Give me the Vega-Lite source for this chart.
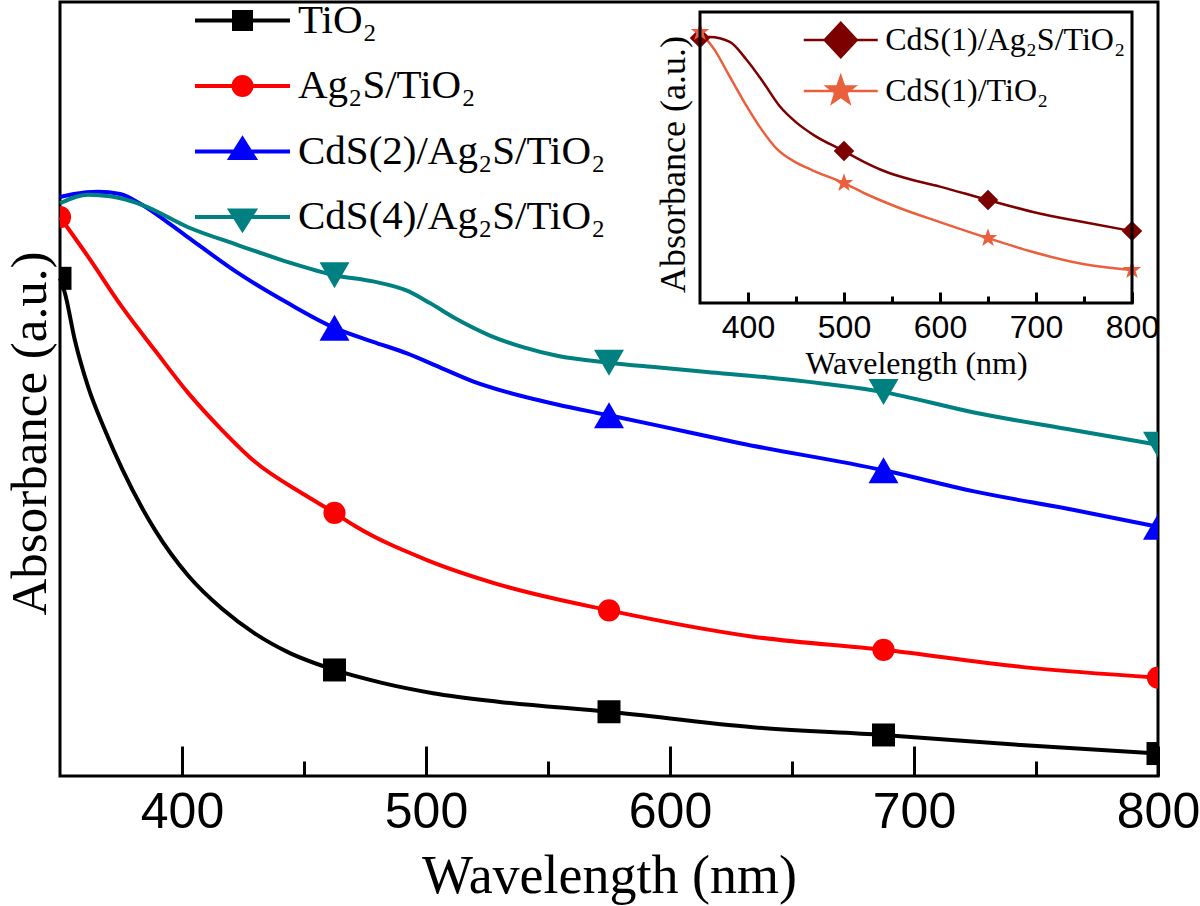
{
  "$schema": "https://vega.github.io/schema/vega-lite/v6.json",
  "width": 1098,
  "height": 774,
  "autosize": {"type": "none"},
  "padding": {"left": 60, "top": 2, "right": 42, "bottom": 130},
  "background": "white",
  "config": {
    "view": {"stroke": "black", "strokeWidth": 3},
    "font": "Liberation Serif",
    "axis": {"grid": false}
  },
  "datasets": {
    "uv": [
      {"series": "TiO₂", "wl": 350, "abs": 0.643},
      {"series": "TiO₂", "wl": 352, "abs": 0.624},
      {"series": "TiO₂", "wl": 356.1, "abs": 0.563},
      {"series": "TiO₂", "wl": 361.5, "abs": 0.503},
      {"series": "TiO₂", "wl": 368.4, "abs": 0.447},
      {"series": "TiO₂", "wl": 375.4, "abs": 0.397},
      {"series": "TiO₂", "wl": 388.9, "abs": 0.318},
      {"series": "TiO₂", "wl": 402.5, "abs": 0.259},
      {"series": "TiO₂", "wl": 416.4, "abs": 0.216},
      {"series": "TiO₂", "wl": 429.9, "abs": 0.184},
      {"series": "TiO₂", "wl": 443.4, "abs": 0.160},
      {"series": "TiO₂", "wl": 462.5, "abs": 0.137},
      {"series": "TiO₂", "wl": 482.4, "abs": 0.120},
      {"series": "TiO₂", "wl": 502.9, "abs": 0.107},
      {"series": "TiO₂", "wl": 529.5, "abs": 0.096},
      {"series": "TiO₂", "wl": 575, "abs": 0.083},
      {"series": "TiO₂", "wl": 634, "abs": 0.063},
      {"series": "TiO₂", "wl": 687.5, "abs": 0.053},
      {"series": "TiO₂", "wl": 743.8, "abs": 0.040},
      {"series": "TiO₂", "wl": 800, "abs": 0.029},
      {"series": "Ag₂S/TiO₂", "wl": 350, "abs": 0.722},
      {"series": "Ag₂S/TiO₂", "wl": 361.5, "abs": 0.671},
      {"series": "Ag₂S/TiO₂", "wl": 375.4, "abs": 0.606},
      {"series": "Ag₂S/TiO₂", "wl": 388.9, "abs": 0.550},
      {"series": "Ag₂S/TiO₂", "wl": 402.5, "abs": 0.495},
      {"series": "Ag₂S/TiO₂", "wl": 416.4, "abs": 0.447},
      {"series": "Ag₂S/TiO₂", "wl": 429.9, "abs": 0.406},
      {"series": "Ag₂S/TiO₂", "wl": 450.4, "abs": 0.363},
      {"series": "Ag₂S/TiO₂", "wl": 462.5, "abs": 0.340},
      {"series": "Ag₂S/TiO₂", "wl": 470.9, "abs": 0.323},
      {"series": "Ag₂S/TiO₂", "wl": 500.4, "abs": 0.279},
      {"series": "Ag₂S/TiO₂", "wl": 530.3, "abs": 0.247},
      {"series": "Ag₂S/TiO₂", "wl": 575, "abs": 0.214},
      {"series": "Ag₂S/TiO₂", "wl": 634, "abs": 0.180},
      {"series": "Ag₂S/TiO₂", "wl": 687.5, "abs": 0.163},
      {"series": "Ag₂S/TiO₂", "wl": 743.8, "abs": 0.141},
      {"series": "Ag₂S/TiO₂", "wl": 800, "abs": 0.127},
      {"series": "CdS(2)/Ag₂S/TiO₂", "wl": 350, "abs": 0.748},
      {"series": "CdS(2)/Ag₂S/TiO₂", "wl": 355.7, "abs": 0.752},
      {"series": "CdS(2)/Ag₂S/TiO₂", "wl": 365.6, "abs": 0.755},
      {"series": "CdS(2)/Ag₂S/TiO₂", "wl": 374.6, "abs": 0.752},
      {"series": "CdS(2)/Ag₂S/TiO₂", "wl": 383.6, "abs": 0.738},
      {"series": "CdS(2)/Ag₂S/TiO₂", "wl": 393, "abs": 0.718},
      {"series": "CdS(2)/Ag₂S/TiO₂", "wl": 402.5, "abs": 0.696},
      {"series": "CdS(2)/Ag₂S/TiO₂", "wl": 422.9, "abs": 0.650},
      {"series": "CdS(2)/Ag₂S/TiO₂", "wl": 443.4, "abs": 0.611},
      {"series": "CdS(2)/Ag₂S/TiO₂", "wl": 462.5, "abs": 0.579},
      {"series": "CdS(2)/Ag₂S/TiO₂", "wl": 478.3, "abs": 0.561},
      {"series": "CdS(2)/Ag₂S/TiO₂", "wl": 492.2, "abs": 0.546},
      {"series": "CdS(2)/Ag₂S/TiO₂", "wl": 505.7, "abs": 0.528},
      {"series": "CdS(2)/Ag₂S/TiO₂", "wl": 519.2, "abs": 0.510},
      {"series": "CdS(2)/Ag₂S/TiO₂", "wl": 533.2, "abs": 0.496},
      {"series": "CdS(2)/Ag₂S/TiO₂", "wl": 553.7, "abs": 0.480},
      {"series": "CdS(2)/Ag₂S/TiO₂", "wl": 575, "abs": 0.466},
      {"series": "CdS(2)/Ag₂S/TiO₂", "wl": 594.6, "abs": 0.453},
      {"series": "CdS(2)/Ag₂S/TiO₂", "wl": 628.7, "abs": 0.430},
      {"series": "CdS(2)/Ag₂S/TiO₂", "wl": 687.5, "abs": 0.395},
      {"series": "CdS(2)/Ag₂S/TiO₂", "wl": 724.1, "abs": 0.368},
      {"series": "CdS(2)/Ag₂S/TiO₂", "wl": 765.1, "abs": 0.344},
      {"series": "CdS(2)/Ag₂S/TiO₂", "wl": 800, "abs": 0.322},
      {"series": "CdS(4)/Ag₂S/TiO₂", "wl": 350, "abs": 0.740},
      {"series": "CdS(4)/Ag₂S/TiO₂", "wl": 361.5, "abs": 0.751},
      {"series": "CdS(4)/Ag₂S/TiO₂", "wl": 370.5, "abs": 0.749},
      {"series": "CdS(4)/Ag₂S/TiO₂", "wl": 383.6, "abs": 0.738},
      {"series": "CdS(4)/Ag₂S/TiO₂", "wl": 402.5, "abs": 0.709},
      {"series": "CdS(4)/Ag₂S/TiO₂", "wl": 422.9, "abs": 0.686},
      {"series": "CdS(4)/Ag₂S/TiO₂", "wl": 443.4, "abs": 0.664},
      {"series": "CdS(4)/Ag₂S/TiO₂", "wl": 462.5, "abs": 0.647},
      {"series": "CdS(4)/Ag₂S/TiO₂", "wl": 478.3, "abs": 0.639},
      {"series": "CdS(4)/Ag₂S/TiO₂", "wl": 492.2, "abs": 0.627},
      {"series": "CdS(4)/Ag₂S/TiO₂", "wl": 501.6, "abs": 0.611},
      {"series": "CdS(4)/Ag₂S/TiO₂", "wl": 512.7, "abs": 0.590},
      {"series": "CdS(4)/Ag₂S/TiO₂", "wl": 526.2, "abs": 0.569},
      {"series": "CdS(4)/Ag₂S/TiO₂", "wl": 539.7, "abs": 0.554},
      {"series": "CdS(4)/Ag₂S/TiO₂", "wl": 553.7, "abs": 0.543},
      {"series": "CdS(4)/Ag₂S/TiO₂", "wl": 575, "abs": 0.534},
      {"series": "CdS(4)/Ag₂S/TiO₂", "wl": 594.6, "abs": 0.528},
      {"series": "CdS(4)/Ag₂S/TiO₂", "wl": 615.1, "abs": 0.522},
      {"series": "CdS(4)/Ag₂S/TiO₂", "wl": 640, "abs": 0.515},
      {"series": "CdS(4)/Ag₂S/TiO₂", "wl": 687.5, "abs": 0.496},
      {"series": "CdS(4)/Ag₂S/TiO₂", "wl": 724.1, "abs": 0.470},
      {"series": "CdS(4)/Ag₂S/TiO₂", "wl": 765.1, "abs": 0.447},
      {"series": "CdS(4)/Ag₂S/TiO₂", "wl": 800, "abs": 0.428}
    ],
    "uvMarkers": [
      {"series": "TiO₂", "wl": 350, "abs": 0.643},
      {"series": "TiO₂", "wl": 462.5, "abs": 0.137},
      {"series": "TiO₂", "wl": 575, "abs": 0.083},
      {"series": "TiO₂", "wl": 687.5, "abs": 0.053},
      {"series": "TiO₂", "wl": 800, "abs": 0.029},
      {"series": "Ag₂S/TiO₂", "wl": 350, "abs": 0.722},
      {"series": "Ag₂S/TiO₂", "wl": 462.5, "abs": 0.340},
      {"series": "Ag₂S/TiO₂", "wl": 575, "abs": 0.214},
      {"series": "Ag₂S/TiO₂", "wl": 687.5, "abs": 0.163},
      {"series": "Ag₂S/TiO₂", "wl": 800, "abs": 0.127},
      {"series": "CdS(2)/Ag₂S/TiO₂", "wl": 462.5, "abs": 0.579},
      {"series": "CdS(2)/Ag₂S/TiO₂", "wl": 575, "abs": 0.466},
      {"series": "CdS(2)/Ag₂S/TiO₂", "wl": 687.5, "abs": 0.395},
      {"series": "CdS(2)/Ag₂S/TiO₂", "wl": 800, "abs": 0.322},
      {"series": "CdS(4)/Ag₂S/TiO₂", "wl": 462.5, "abs": 0.647},
      {"series": "CdS(4)/Ag₂S/TiO₂", "wl": 575, "abs": 0.534},
      {"series": "CdS(4)/Ag₂S/TiO₂", "wl": 687.5, "abs": 0.496},
      {"series": "CdS(4)/Ag₂S/TiO₂", "wl": 800, "abs": 0.428}
    ],
    "inset": [
      {"sample": "CdS(1)/Ag₂S/TiO₂", "wl": 350, "abs": 0.911},
      {"sample": "CdS(1)/Ag₂S/TiO₂", "wl": 360.1, "abs": 0.914},
      {"sample": "CdS(1)/Ag₂S/TiO₂", "wl": 381, "abs": 0.897},
      {"sample": "CdS(1)/Ag₂S/TiO₂", "wl": 398.7, "abs": 0.835},
      {"sample": "CdS(1)/Ag₂S/TiO₂", "wl": 416.4, "abs": 0.756},
      {"sample": "CdS(1)/Ag₂S/TiO₂", "wl": 433.1, "abs": 0.676},
      {"sample": "CdS(1)/Ag₂S/TiO₂", "wl": 450.8, "abs": 0.619},
      {"sample": "CdS(1)/Ag₂S/TiO₂", "wl": 468.5, "abs": 0.577},
      {"sample": "CdS(1)/Ag₂S/TiO₂", "wl": 500, "abs": 0.522},
      {"sample": "CdS(1)/Ag₂S/TiO₂", "wl": 520.7, "abs": 0.485},
      {"sample": "CdS(1)/Ag₂S/TiO₂", "wl": 538.4, "abs": 0.458},
      {"sample": "CdS(1)/Ag₂S/TiO₂", "wl": 555.1, "abs": 0.438},
      {"sample": "CdS(1)/Ag₂S/TiO₂", "wl": 599.9, "abs": 0.400},
      {"sample": "CdS(1)/Ag₂S/TiO₂", "wl": 650, "abs": 0.354},
      {"sample": "CdS(1)/Ag₂S/TiO₂", "wl": 696.9, "abs": 0.313},
      {"sample": "CdS(1)/Ag₂S/TiO₂", "wl": 749, "abs": 0.278},
      {"sample": "CdS(1)/Ag₂S/TiO₂", "wl": 800, "abs": 0.247},
      {"sample": "CdS(1)/TiO₂", "wl": 350, "abs": 0.931},
      {"sample": "CdS(1)/TiO₂", "wl": 365.4, "abs": 0.869},
      {"sample": "CdS(1)/TiO₂", "wl": 379, "abs": 0.790},
      {"sample": "CdS(1)/TiO₂", "wl": 396.7, "abs": 0.687},
      {"sample": "CdS(1)/TiO₂", "wl": 414.4, "abs": 0.595},
      {"sample": "CdS(1)/TiO₂", "wl": 431.1, "abs": 0.526},
      {"sample": "CdS(1)/TiO₂", "wl": 448.8, "abs": 0.485},
      {"sample": "CdS(1)/TiO₂", "wl": 466.5, "abs": 0.457},
      {"sample": "CdS(1)/TiO₂", "wl": 500, "abs": 0.412},
      {"sample": "CdS(1)/TiO₂", "wl": 520.7, "abs": 0.378},
      {"sample": "CdS(1)/TiO₂", "wl": 555.1, "abs": 0.330},
      {"sample": "CdS(1)/TiO₂", "wl": 599.9, "abs": 0.278},
      {"sample": "CdS(1)/TiO₂", "wl": 650, "abs": 0.223},
      {"sample": "CdS(1)/TiO₂", "wl": 696.9, "abs": 0.175},
      {"sample": "CdS(1)/TiO₂", "wl": 749, "abs": 0.134},
      {"sample": "CdS(1)/TiO₂", "wl": 800, "abs": 0.113}
    ],
    "insetMarkers": [
      {"sample": "CdS(1)/Ag₂S/TiO₂", "wl": 350, "abs": 0.911},
      {"sample": "CdS(1)/Ag₂S/TiO₂", "wl": 500, "abs": 0.522},
      {"sample": "CdS(1)/Ag₂S/TiO₂", "wl": 650, "abs": 0.354},
      {"sample": "CdS(1)/Ag₂S/TiO₂", "wl": 800, "abs": 0.247},
      {"sample": "CdS(1)/TiO₂", "wl": 350, "abs": 0.931},
      {"sample": "CdS(1)/TiO₂", "wl": 500, "abs": 0.412},
      {"sample": "CdS(1)/TiO₂", "wl": 650, "abs": 0.223},
      {"sample": "CdS(1)/TiO₂", "wl": 800, "abs": 0.113}
    ]
  },
  "layer": [
    {
      "layer": [
        {
          "data": {"name": "uv"},
          "transform": [{"filter": "datum.series === 'TiO₂'"}],
          "mark": {"type": "line", "strokeWidth": 4, "interpolate": "monotone", "color": "#000000"},
          "encoding": {
            "x": {
              "field": "wl", "type": "quantitative",
              "scale": {"domain": [350, 800], "nice": false, "zero": false},
              "axis": {
                "orient": "bottom", "values": [400, 500, 600, 700, 800],
                "tickSize": -30, "tickWidth": 3, "tickColor": "black", "domain": false,
                "labelFont": "Liberation Sans", "labelFontSize": 50, "labelColor": "black",
                "labelPadding": 41, "labelFlush": false, "labelOverlap": false,
                "title": "Wavelength (nm)", "titleFont": "Liberation Serif", "titleFontSize": 54,
                "titleFontWeight": "normal", "titleColor": "black", "titleY": 116, "titleBaseline": "alphabetic"
              }
            },
            "y": {
              "field": "abs", "type": "quantitative",
              "scale": {"domain": [0, 1], "nice": false, "zero": false},
              "axis": {
                "orient": "left", "ticks": false, "labels": false, "domain": false,
                "title": "Absorbance (a.u.)", "titleFont": "Liberation Serif", "titleFontSize": 51,
                "titleFontWeight": "normal", "titleColor": "black", "titleX": -15, "titleY": 431,
                "titleBaseline": "alphabetic", "titleAngle": -90
              }
            }
          }
        },
        {
          "data": {"name": "uv"},
          "transform": [{"filter": "datum.series === 'Ag₂S/TiO₂'"}],
          "mark": {"type": "line", "strokeWidth": 4, "interpolate": "monotone", "color": "#ff0000"},
          "encoding": {"x": {"field": "wl", "type": "quantitative"}, "y": {"field": "abs", "type": "quantitative"}}
        },
        {
          "data": {"name": "uv"},
          "transform": [{"filter": "datum.series === 'CdS(2)/Ag₂S/TiO₂'"}],
          "mark": {"type": "line", "strokeWidth": 4, "interpolate": "monotone", "color": "#0000ff"},
          "encoding": {"x": {"field": "wl", "type": "quantitative"}, "y": {"field": "abs", "type": "quantitative"}}
        },
        {
          "data": {"name": "uv"},
          "transform": [{"filter": "datum.series === 'CdS(4)/Ag₂S/TiO₂'"}],
          "mark": {"type": "line", "strokeWidth": 4, "interpolate": "monotone", "color": "#008080"},
          "encoding": {"x": {"field": "wl", "type": "quantitative"}, "y": {"field": "abs", "type": "quantitative"}}
        },
        {
          "data": {"name": "uvMarkers"},
          "transform": [{"filter": "datum.series === 'TiO₂'"}],
          "mark": {"type": "point", "filled": true, "opacity": 1, "clip": true, "shape": "square", "size": 529, "color": "#000000"},
          "encoding": {"x": {"field": "wl", "type": "quantitative"}, "y": {"field": "abs", "type": "quantitative"}}
        },
        {
          "data": {"name": "uvMarkers"},
          "transform": [{"filter": "datum.series === 'Ag₂S/TiO₂'"}],
          "mark": {"type": "point", "filled": true, "opacity": 1, "clip": true, "shape": "circle", "size": 491, "color": "#ff0000"},
          "encoding": {"x": {"field": "wl", "type": "quantitative"}, "y": {"field": "abs", "type": "quantitative"}}
        },
        {
          "data": {"name": "uvMarkers"},
          "transform": [{"filter": "datum.series === 'CdS(2)/Ag₂S/TiO₂'"}],
          "mark": {"type": "point", "filled": true, "opacity": 1, "clip": true, "shape": "triangle-up", "size": 900, "color": "#0000ff"},
          "encoding": {"x": {"field": "wl", "type": "quantitative"}, "y": {"field": "abs", "type": "quantitative"}}
        },
        {
          "data": {"name": "uvMarkers"},
          "transform": [{"filter": "datum.series === 'CdS(4)/Ag₂S/TiO₂'"}],
          "mark": {"type": "point", "filled": true, "opacity": 1, "clip": true, "shape": "triangle-down", "size": 900, "color": "#008080"},
          "encoding": {"x": {"field": "wl", "type": "quantitative"}, "y": {"field": "abs", "type": "quantitative"}}
        },
        {
          "data": {"name": "uvMarkers"},
          "mark": {"type": "point", "filled": true, "strokeWidth": 4, "opacity": 0},
          "encoding": {
            "x": {"field": "wl", "type": "quantitative"},
            "y": {"field": "abs", "type": "quantitative"},
            "fill": {
              "field": "series", "type": "nominal",
              "scale": {"domain": ["TiO₂", "Ag₂S/TiO₂", "CdS(2)/Ag₂S/TiO₂", "CdS(4)/Ag₂S/TiO₂"], "range": ["#000000", "#ff0000", "#0000ff", "#008080"]},
              "legend": {"orient": "none", "legendX": 135, "legendY": -2, "title": null, "labelFont": "Liberation Serif", "labelFontSize": 41, "labelColor": "black", "labelLimit": 600, "symbolSize": 400, "symbolStrokeWidth": 4, "symbolOpacity": 1, "rowPadding": 23.5, "labelOffset": 35, "symbolOffset": 27}
            },
            "stroke": {
              "field": "series", "type": "nominal",
              "scale": {"domain": ["TiO₂", "Ag₂S/TiO₂", "CdS(2)/Ag₂S/TiO₂", "CdS(4)/Ag₂S/TiO₂"], "range": ["#000000", "#ff0000", "#0000ff", "#008080"]},
              "legend": {"orient": "none", "legendX": 135, "legendY": -2, "title": null, "labelFont": "Liberation Serif", "labelFontSize": 41, "labelColor": "black", "labelLimit": 600, "symbolSize": 400, "symbolStrokeWidth": 4, "symbolOpacity": 1, "rowPadding": 23.5, "labelOffset": 35, "symbolOffset": 27}
            },
            "shape": {
              "field": "series", "type": "nominal",
              "scale": {"domain": ["TiO₂", "Ag₂S/TiO₂", "CdS(2)/Ag₂S/TiO₂", "CdS(4)/Ag₂S/TiO₂"], "range": [
                "M-4.75,0H4.75M-0.85,-0.85H0.85V0.85H-0.85Z",
                "M-4.75,0H4.75M0.9,0A0.9,0.9,0,1,1,-0.9,0A0.9,0.9,0,1,1,0.9,0Z",
                "M-4.75,0H4.75M0,-1.25L1.2,0.65H-1.2Z",
                "M-4.75,0H4.75M0,1.25L1.2,-0.65H-1.2Z"
              ]},
              "legend": {"orient": "none", "legendX": 135, "legendY": -2, "title": null, "labelFont": "Liberation Serif", "labelFontSize": 41, "labelColor": "black", "labelLimit": 600, "symbolSize": 400, "symbolStrokeWidth": 4, "symbolOpacity": 1, "rowPadding": 23.5, "labelOffset": 35, "symbolOffset": 27}
            }
          }
        }
      ]
    },
    {
      "data": {"name": "uvMarkers"},
      "mark": {"type": "point", "opacity": 0},
      "encoding": {
        "x": {
          "field": "wl", "type": "quantitative",
          "scale": {"domain": [350, 800], "nice": false, "zero": false},
          "axis": {"orient": "bottom", "values": [450, 550, 650, 750], "tickSize": -15, "tickWidth": 3, "tickColor": "black", "labels": false, "domain": false, "title": null}
        }
      }
    },
    {
      "layer": [
        {
          "data": {"name": "inset"},
          "transform": [{"filter": "datum.sample === 'CdS(1)/Ag₂S/TiO₂'"}],
          "mark": {"type": "line", "strokeWidth": 2.5, "interpolate": "monotone", "color": "#7d0000"},
          "encoding": {
            "x": {
              "field": "wl", "type": "quantitative",
              "scale": {"domain": [350, 800], "range": [640, 1072], "nice": false, "zero": false},
              "axis": {
                "orient": "bottom", "offset": -473, "values": [400, 500, 600, 700, 800],
                "tickSize": -11, "tickWidth": 3, "tickColor": "black", "domain": false,
                "labelFont": "Liberation Sans", "labelFontSize": 32, "labelColor": "black",
                "labelPadding": 20, "labelFlush": false, "labelOverlap": false,
                "title": "Wavelength (nm)", "titleFont": "Liberation Serif", "titleFontSize": 32,
                "titleFontWeight": "normal", "titleColor": "black", "titleY": 70, "titleBaseline": "alphabetic"
              }
            },
            "y": {
              "field": "abs", "type": "quantitative",
              "scale": {"domain": [0, 1], "range": [301, 10], "nice": false, "zero": false},
              "axis": {
                "orient": "left", "offset": -640, "ticks": false, "labels": false, "domain": false,
                "title": "Absorbance (a.u.)", "titleFont": "Liberation Serif", "titleFontSize": 36,
                "titleFontWeight": "normal", "titleColor": "black", "titleX": -16, "titleY": 162,
                "titleBaseline": "alphabetic", "titleAngle": -90
              }
            }
          }
        },
        {
          "data": {"name": "inset"},
          "transform": [{"filter": "datum.sample === 'CdS(1)/TiO₂'"}],
          "mark": {"type": "line", "strokeWidth": 2.5, "interpolate": "monotone", "color": "#ea5f3c"},
          "encoding": {"x": {"field": "wl", "type": "quantitative"}, "y": {"field": "abs", "type": "quantitative"}}
        },
        {
          "data": {"name": "insetMarkers"},
          "transform": [{"filter": "datum.sample === 'CdS(1)/Ag₂S/TiO₂'"}],
          "mark": {"type": "point", "filled": true, "opacity": 1, "shape": "diamond", "size": 420, "color": "#7d0000"},
          "encoding": {"x": {"field": "wl", "type": "quantitative"}, "y": {"field": "abs", "type": "quantitative"}}
        },
        {
          "data": {"name": "insetMarkers"},
          "transform": [{"filter": "datum.sample === 'CdS(1)/TiO₂'"}],
          "mark": {"type": "point", "filled": true, "opacity": 1, "shape": "M0,-1L0.235,-0.324L0.951,-0.309L0.38,0.124L0.588,0.809L0,0.4L-0.588,0.809L-0.38,0.124L-0.951,-0.309L-0.235,-0.324Z", "size": 380, "color": "#ea5f3c"},
          "encoding": {"x": {"field": "wl", "type": "quantitative"}, "y": {"field": "abs", "type": "quantitative"}}
        },
        {
          "data": {"name": "insetMarkers"},
          "mark": {"type": "point", "filled": true, "strokeWidth": 2.5, "opacity": 0},
          "encoding": {
            "x": {"field": "wl", "type": "quantitative"},
            "y": {"field": "abs", "type": "quantitative"},
            "fill": {
              "field": "sample", "type": "nominal",
              "scale": {"domain": ["CdS(1)/Ag₂S/TiO₂", "CdS(1)/TiO₂"], "range": ["#7d0000", "#ea5f3c"]},
              "legend": {"orient": "none", "legendX": 744, "legendY": 22, "title": null, "labelFont": "Liberation Serif", "labelFontSize": 32, "labelColor": "black", "labelLimit": 600, "symbolSize": 256, "symbolStrokeWidth": 2.5, "symbolOpacity": 1, "rowPadding": 8, "labelOffset": 28.5, "symbolOffset": 20.75}
            },
            "stroke": {
              "field": "sample", "type": "nominal",
              "scale": {"domain": ["CdS(1)/Ag₂S/TiO₂", "CdS(1)/TiO₂"], "range": ["#7d0000", "#ea5f3c"]},
              "legend": {"orient": "none", "legendX": 744, "legendY": 22, "title": null, "labelFont": "Liberation Serif", "labelFontSize": 32, "labelColor": "black", "labelLimit": 600, "symbolSize": 256, "symbolStrokeWidth": 2.5, "symbolOpacity": 1, "rowPadding": 8, "labelOffset": 28.5, "symbolOffset": 20.75}
            },
            "shape": {
              "field": "sample", "type": "nominal",
              "scale": {"domain": ["CdS(1)/Ag₂S/TiO₂", "CdS(1)/TiO₂"], "range": [
                "M-4.625,0H4.625M0,-2.15L2,0L0,2.15L-2,0Z",
                "M-4.625,0H4.625M0,-1.8L0.423,-0.582L1.712,-0.556L0.685,0.222L1.058,1.456L0,0.72L-1.058,1.456L-0.685,0.222L-1.712,-0.556L-0.423,-0.582Z"
              ]},
              "legend": {"orient": "none", "legendX": 744, "legendY": 22, "title": null, "labelFont": "Liberation Serif", "labelFontSize": 32, "labelColor": "black", "labelLimit": 600, "symbolSize": 256, "symbolStrokeWidth": 2.5, "symbolOpacity": 1, "rowPadding": 8, "labelOffset": 28.5, "symbolOffset": 20.75}
            }
          }
        },
        {
          "data": {"values": [{}]},
          "mark": {"type": "rect", "filled": false, "stroke": "black", "strokeWidth": 3},
          "encoding": {
            "x": {"datum": 350, "type": "quantitative"},
            "x2": {"datum": 800},
            "y": {"datum": 0, "type": "quantitative"},
            "y2": {"datum": 1}
          }
        }
      ]
    },
    {
      "data": {"name": "insetMarkers"},
      "mark": {"type": "point", "opacity": 0},
      "encoding": {
        "x": {
          "field": "wl", "type": "quantitative",
          "scale": {"domain": [350, 800], "range": [640, 1072], "nice": false, "zero": false},
          "axis": {"orient": "bottom", "offset": -473, "values": [450, 550, 650, 750], "tickSize": -7, "tickWidth": 3, "tickColor": "black", "labels": false, "domain": false, "title": null}
        }
      }
    }
  ],
  "resolve": {"scale": {"x": "independent", "y": "independent", "fill": "independent", "stroke": "independent", "shape": "independent"}}
}
